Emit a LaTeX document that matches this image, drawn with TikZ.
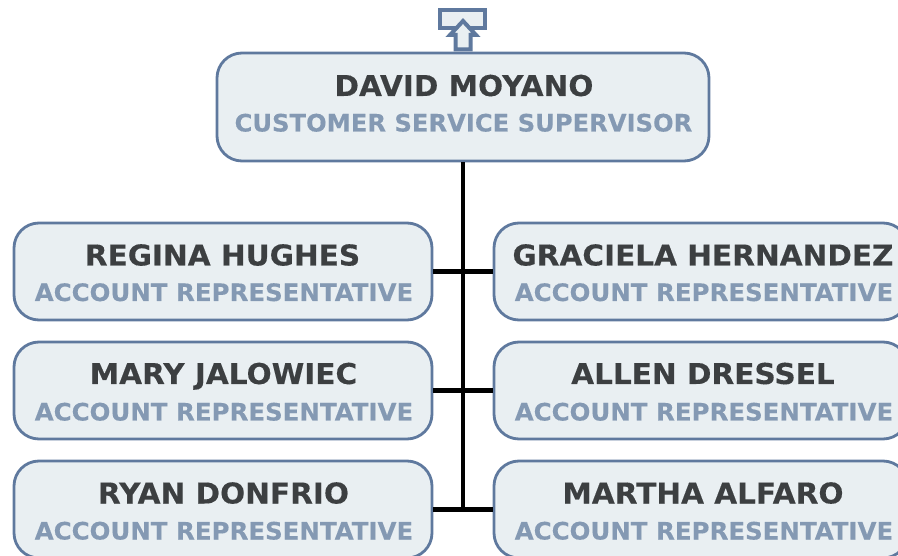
\documentclass[tikz,border=0pt]{standalone}
\usepackage{fontspec}
\setmainfont{DejaVu Sans}
\newfontfamily\namefont[FakeStretch=1.03,FakeBold=0.25]{DejaVu Sans Bold}
\newfontfamily\rolefont[FakeStretch=1.02,FakeBold=0.2]{DejaVu Sans Bold}
\newfontfamily\headrolefont[FakeStretch=1.01,FakeBold=0.2]{DejaVu Sans Bold}
\tikzset{
  x=1pt,y=-1pt,
  card/.style={draw=cardline,fill=cardfill,line width=2.8pt,rounded corners=25pt,inner sep=0pt,minimum height=97pt,minimum width=418pt},
  person/.style={anchor=base,inner sep=0pt,text=nametext,font=\namefont\fontsize{28.7}{30}\selectfont},
  role/.style={anchor=base,inner sep=0pt,text=roletext,font=\rolefont\fontsize{24}{28}\selectfont},
  link/.style={draw=black,line width=4.2pt},
  icon/.style={draw=cardline,fill=cardfill,line width=4pt,line join=miter}
}
\definecolor{cardline}{HTML}{5F799E}
\definecolor{cardfill}{HTML}{E9EFF2}
\definecolor{nametext}{HTML}{3C3F41}
\definecolor{roletext}{HTML}{8499B3}
\begin{document}
\begin{tikzpicture}
\clip (0,0) rectangle (898,556);
\path[icon] (440,10) rectangle (485,28);
\path[icon] (463,21) -- (476,35) -- (470.5,35) -- (470.5,49.5) -- (455.5,49.5) -- (455.5,35) -- (450,35) -- cycle;
\node[card,minimum width=492pt,minimum height=108pt] (boss) at (463,107) {};
\node[card] (regina) at (223,271.5) {};
\node[card] (mary) at (223,390.5) {};
\node[card] (ryan) at (223,509.5) {};
\node[card,minimum width=414pt] (graciela) at (701,271.5) {};
\node[card,minimum width=414pt] (allen) at (701,390.5) {};
\node[card,minimum width=414pt] (martha) at (701,509.5) {};
\draw[link] (boss.south) -- (boss.south |- ryan.east);
\draw[link] (regina.east) -- (graciela.west);
\draw[link] (mary.east) -- (allen.west);
\draw[link] (ryan.east) -- (martha.west);
\node[person] (n1) at (464,96) {DAVID MOYANO};
\node[role,font=\headrolefont\fontsize{24}{28}\selectfont] (r1) at (463.5,131.5) {CUSTOMER SERVICE SUPERVISOR};
\node[person] (n2) at (222.5,265.5) {REGINA HUGHES};
\node[role] (r2) at (224,301) {ACCOUNT REPRESENTATIVE};
\node[person] (n3) at (223.5,384) {MARY JALOWIEC};
\node[role] (r3) at (224,420.5) {ACCOUNT REPRESENTATIVE};
\node[person] (n4) at (223.5,503.5) {RYAN DONFRIO};
\node[role] (r4) at (224,539.5) {ACCOUNT REPRESENTATIVE};
\node[person] (n5) at (703,265.5) {GRACIELA HERNANDEZ};
\node[role] (r5) at (704,301) {ACCOUNT REPRESENTATIVE};
\node[person] (n6) at (703,384) {ALLEN DRESSEL};
\node[role] (r6) at (704,420.5) {ACCOUNT REPRESENTATIVE};
\node[person] (n7) at (703,503.5) {MARTHA ALFARO};
\node[role] (r7) at (704,539.5) {ACCOUNT REPRESENTATIVE};
\end{tikzpicture}
\end{document}
